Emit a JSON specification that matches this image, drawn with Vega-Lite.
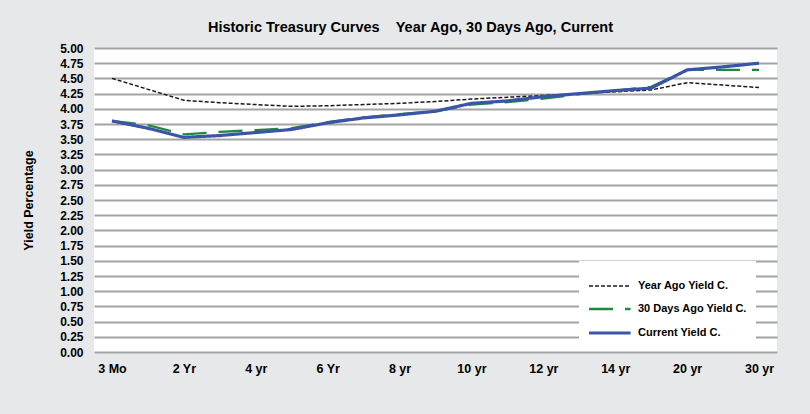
{
  "$schema": "https://vega.github.io/schema/vega-lite/v6.json",
  "width": 683,
  "height": 304,
  "autosize": {"type": "none"},
  "padding": {"left": 94, "top": 48, "right": 33, "bottom": 62},
  "background": "#e7e8ea",
  "title": {
    "text": "Historic Treasury Curves\u00a0\u00a0\u00a0\u00a0Year Ago, 30 Days Ago, Current",
    "font": "Liberation Sans",
    "fontSize": 14.5,
    "fontWeight": "bold",
    "color": "#000000",
    "anchor": "middle",
    "dx": -25,
    "offset": 7
  },
  "data": {
    "values": [
      {"term": "3 Mo", "series": "Year Ago Yield C.", "value": 4.50},
      {"term": "1 Yr", "series": "Year Ago Yield C.", "value": 4.32},
      {"term": "2 Yr", "series": "Year Ago Yield C.", "value": 4.14},
      {"term": "3 Yr", "series": "Year Ago Yield C.", "value": 4.10},
      {"term": "4 yr", "series": "Year Ago Yield C.", "value": 4.07},
      {"term": "5 Yr", "series": "Year Ago Yield C.", "value": 4.04},
      {"term": "6 Yr", "series": "Year Ago Yield C.", "value": 4.05},
      {"term": "7 Yr", "series": "Year Ago Yield C.", "value": 4.07},
      {"term": "8 yr", "series": "Year Ago Yield C.", "value": 4.09},
      {"term": "9 yr", "series": "Year Ago Yield C.", "value": 4.12},
      {"term": "10 yr", "series": "Year Ago Yield C.", "value": 4.16},
      {"term": "11 yr", "series": "Year Ago Yield C.", "value": 4.19},
      {"term": "12 yr", "series": "Year Ago Yield C.", "value": 4.22},
      {"term": "13 yr", "series": "Year Ago Yield C.", "value": 4.25},
      {"term": "14 yr", "series": "Year Ago Yield C.", "value": 4.28},
      {"term": "15 yr", "series": "Year Ago Yield C.", "value": 4.31},
      {"term": "20 yr", "series": "Year Ago Yield C.", "value": 4.43},
      {"term": "25 yr", "series": "Year Ago Yield C.", "value": 4.39},
      {"term": "30 yr", "series": "Year Ago Yield C.", "value": 4.35},
      {"term": "3 Mo", "series": "30 Days Ago Yield C.", "value": 3.80},
      {"term": "1 Yr", "series": "30 Days Ago Yield C.", "value": 3.73},
      {"term": "2 Yr", "series": "30 Days Ago Yield C.", "value": 3.58},
      {"term": "3 Yr", "series": "30 Days Ago Yield C.", "value": 3.62},
      {"term": "4 yr", "series": "30 Days Ago Yield C.", "value": 3.65},
      {"term": "5 Yr", "series": "30 Days Ago Yield C.", "value": 3.68},
      {"term": "6 Yr", "series": "30 Days Ago Yield C.", "value": 3.78},
      {"term": "7 Yr", "series": "30 Days Ago Yield C.", "value": 3.86},
      {"term": "8 yr", "series": "30 Days Ago Yield C.", "value": 3.91},
      {"term": "9 yr", "series": "30 Days Ago Yield C.", "value": 3.96},
      {"term": "10 yr", "series": "30 Days Ago Yield C.", "value": 4.07},
      {"term": "11 yr", "series": "30 Days Ago Yield C.", "value": 4.11},
      {"term": "12 yr", "series": "30 Days Ago Yield C.", "value": 4.17},
      {"term": "13 yr", "series": "30 Days Ago Yield C.", "value": 4.24},
      {"term": "14 yr", "series": "30 Days Ago Yield C.", "value": 4.30},
      {"term": "15 yr", "series": "30 Days Ago Yield C.", "value": 4.36},
      {"term": "20 yr", "series": "30 Days Ago Yield C.", "value": 4.64},
      {"term": "25 yr", "series": "30 Days Ago Yield C.", "value": 4.64},
      {"term": "30 yr", "series": "30 Days Ago Yield C.", "value": 4.64},
      {"term": "3 Mo", "series": "Current Yield C.", "value": 3.80},
      {"term": "1 Yr", "series": "Current Yield C.", "value": 3.68},
      {"term": "2 Yr", "series": "Current Yield C.", "value": 3.53},
      {"term": "3 Yr", "series": "Current Yield C.", "value": 3.56},
      {"term": "4 yr", "series": "Current Yield C.", "value": 3.61},
      {"term": "5 Yr", "series": "Current Yield C.", "value": 3.66},
      {"term": "6 Yr", "series": "Current Yield C.", "value": 3.77},
      {"term": "7 Yr", "series": "Current Yield C.", "value": 3.85},
      {"term": "8 yr", "series": "Current Yield C.", "value": 3.90},
      {"term": "9 yr", "series": "Current Yield C.", "value": 3.96},
      {"term": "10 yr", "series": "Current Yield C.", "value": 4.09},
      {"term": "11 yr", "series": "Current Yield C.", "value": 4.13},
      {"term": "12 yr", "series": "Current Yield C.", "value": 4.20},
      {"term": "13 yr", "series": "Current Yield C.", "value": 4.25},
      {"term": "14 yr", "series": "Current Yield C.", "value": 4.30},
      {"term": "15 yr", "series": "Current Yield C.", "value": 4.34},
      {"term": "20 yr", "series": "Current Yield C.", "value": 4.64},
      {"term": "25 yr", "series": "Current Yield C.", "value": 4.69},
      {"term": "30 yr", "series": "Current Yield C.", "value": 4.75}
    ]
  },
  "encoding": {
    "x": {
      "field": "term",
      "type": "ordinal",
      "sort": ["3 Mo", "1 Yr", "2 Yr", "3 Yr", "4 yr", "5 Yr", "6 Yr", "7 Yr", "8 yr", "9 yr", "10 yr", "11 yr", "12 yr", "13 yr", "14 yr", "15 yr", "20 yr", "25 yr", "30 yr"],
      "scale": {"type": "point", "padding": 0.5},
      "axis": {
        "title": null,
        "values": ["3 Mo", "2 Yr", "4 yr", "6 Yr", "8 yr", "10 yr", "12 yr", "14 yr", "20 yr", "30 yr"],
        "labelAngle": 0,
        "ticks": false,
        "domain": false,
        "grid": false,
        "labelPadding": 10,
        "labelFontSize": 12.5
      }
    },
    "y": {
      "field": "value",
      "type": "quantitative",
      "scale": {"domain": [0, 5], "nice": false, "zero": true},
      "axis": {
        "title": "Yield Percentage",
        "values": [0, 0.25, 0.5, 0.75, 1, 1.25, 1.5, 1.75, 2, 2.25, 2.5, 2.75, 3, 3.25, 3.5, 3.75, 4, 4.25, 4.5, 4.75, 5],
        "format": ".2f",
        "ticks": false,
        "domain": false,
        "grid": true,
        "gridColor": "#a3a3a3",
        "gridWidth": 2,
        "labelPadding": 11,
        "labelFontSize": 12,
        "titleFontSize": 12.5,
        "titlePadding": 24
      }
    },
    "color": {
      "field": "series",
      "type": "nominal",
      "scale": {
        "domain": ["Year Ago Yield C.", "30 Days Ago Yield C.", "Current Yield C."],
        "range": ["#1a1a1a", "#1f8a3e", "#3b54a8"]
      },
      "legend": {"title": null}
    },
    "strokeDash": {
      "field": "series",
      "type": "nominal",
      "scale": {
        "domain": ["Year Ago Yield C.", "30 Days Ago Yield C.", "Current Yield C."],
        "range": [[4, 2], [24, 12], [1, 0]]
      },
      "legend": {"title": null}
    },
    "strokeWidth": {
      "field": "series",
      "type": "nominal",
      "scale": {
        "domain": ["Year Ago Yield C.", "30 Days Ago Yield C.", "Current Yield C."],
        "range": [1.5, 3.2, 3.2]
      },
      "legend": {"title": null}
    }
  },
  "layer": [
    {
      "transform": [{"filter": "datum.series === 'Year Ago Yield C.'"}],
      "mark": {"type": "line"}
    },
    {
      "transform": [{"filter": "datum.series === '30 Days Ago Yield C.'"}],
      "mark": {"type": "line"}
    },
    {
      "transform": [{"filter": "datum.series === 'Current Yield C.'"}],
      "mark": {"type": "line"}
    }
  ],
  "config": {
    "view": {"fill": "#ffffff", "stroke": null},
    "font": "Liberation Sans",
    "axis": {
      "labelFont": "Liberation Sans",
      "labelFontWeight": "bold",
      "labelColor": "#000000",
      "titleFont": "Liberation Sans",
      "titleFontWeight": "bold",
      "titleColor": "#000000"
    },
    "legend": {
      "orient": "none",
      "legendX": 485,
      "legendY": 213,
      "fillColor": "#ffffff",
      "padding": 8,
      "rowPadding": 0.5,
      "symbolType": "M-1,0H1.6",
      "symbolSize": 1024,
      "labelFont": "Liberation Sans",
      "labelFontWeight": "bold",
      "labelFontSize": 11,
      "labelColor": "#000000",
      "labelOffset": 15
    }
  }
}
